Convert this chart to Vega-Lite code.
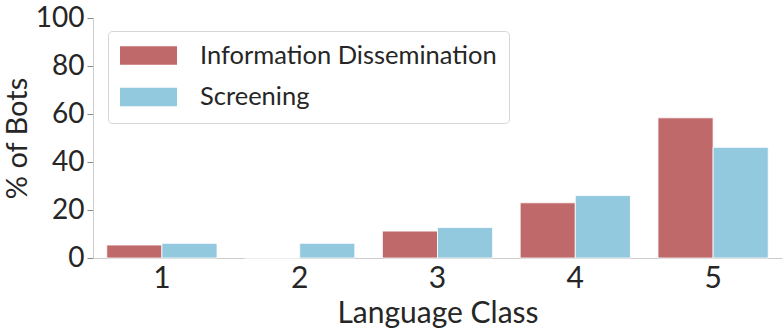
{
  "$schema": "https://vega.github.io/schema/vega-lite/v6.json",
  "width": 689,
  "height": 240,
  "autosize": {"type": "none"},
  "padding": {"left": 93, "top": 18, "right": 2, "bottom": 77},
  "config": {
    "view": {"stroke": null},
    "font": "Lato",
    "axis": {"grid": false, "labelColor": "#262626", "titleColor": "#262626", "domainColor": "#cccccc", "tickColor": "#888888"}
  },
  "data": {
    "values": [
      {"cls": "1", "series": "Information Dissemination", "pct": 5.4},
      {"cls": "1", "series": "Screening", "pct": 6.1},
      {"cls": "2", "series": "Information Dissemination", "pct": 0},
      {"cls": "2", "series": "Screening", "pct": 6.1},
      {"cls": "3", "series": "Information Dissemination", "pct": 11.2},
      {"cls": "3", "series": "Screening", "pct": 12.7},
      {"cls": "4", "series": "Information Dissemination", "pct": 23.0},
      {"cls": "4", "series": "Screening", "pct": 26.0},
      {"cls": "5", "series": "Information Dissemination", "pct": 58.4},
      {"cls": "5", "series": "Screening", "pct": 46.1}
    ]
  },
  "mark": {"type": "bar", "stroke": "white", "strokeWidth": 1, "strokeOpacity": 0.8},
  "encoding": {
    "x": {
      "field": "cls",
      "type": "ordinal",
      "title": "Language Class",
      "scale": {"paddingInner": 0.2, "paddingOuter": 0.1},
      "axis": {"labelAngle": 0, "ticks": false, "labelFontSize": 30, "labelFontWeight": "normal", "labelPadding": 5, "titleFontSize": 30, "titleFontWeight": "normal", "titlePadding": 5}
    },
    "xOffset": {"field": "series", "sort": ["Information Dissemination", "Screening"]},
    "y": {
      "field": "pct",
      "type": "quantitative",
      "title": "% of Bots",
      "scale": {"domain": [0, 100], "nice": false},
      "axis": {"values": [0, 20, 40, 60, 80, 100], "tickSize": 6, "labelFontSize": 28, "labelPadding": 3, "titleFontSize": 29, "titleFontWeight": "normal", "titlePadding": 3}
    },
    "color": {
      "field": "series",
      "type": "nominal",
      "scale": {"domain": ["Information Dissemination", "Screening"], "range": ["#c0696a", "#93c9df"]},
      "legend": {
        "orient": "none",
        "legendX": 15,
        "legendY": 13,
        "title": null,
        "symbolType": "M-1,-0.328H1V0.328H-1Z",
        "symbolSize": 3249,
        "symbolStrokeWidth": 0,
        "symbolOpacity": 1,
        "labelFontSize": 25.5,
        "labelColor": "#262626",
        "labelOffset": 23,
        "labelLimit": 400,
        "padding": 12,
        "fillColor": "white",
        "strokeColor": "#d6d6d6",
        "cornerRadius": 4,
        "clipHeight": 25,
        "rowPadding": 15.5
      }
    }
  }
}
